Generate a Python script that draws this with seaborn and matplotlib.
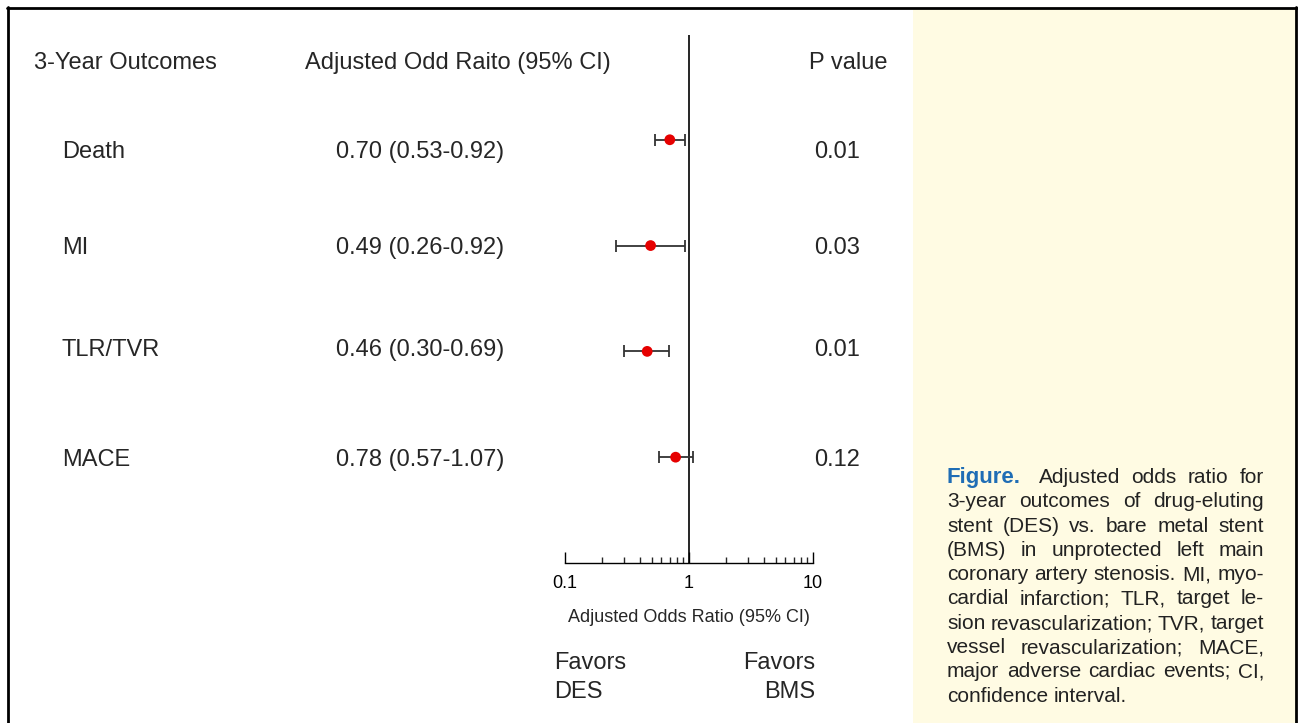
import math
import matplotlib
matplotlib.use("Agg")
import matplotlib.pyplot as plt
import seaborn as sns
import pandas as pd
from matplotlib.lines import Line2D
from matplotlib.patches import Rectangle
from matplotlib.ticker import LogLocator, NullFormatter
from matplotlib import font_manager

# data
outcomes = ["Death", "MI", "TLR/TVR", "MACE"]
odds_ratio = [0.70, 0.49, 0.46, 0.78]
ci_low = [0.53, 0.26, 0.30, 0.57]
ci_high = [0.92, 0.92, 0.69, 1.07]
p_values = ["0.01", "0.03", "0.01", "0.12"]
tick_vals = [0.1, 1, 10]
tick_labels = ["0.1", "1", "10"]

caption_lines = [
    "Figure.  Adjusted odds ratio for",
    "3-year outcomes of drug-eluting",
    "stent (DES) vs. bare metal stent",
    "(BMS) in unprotected left main",
    "coronary artery stenosis. MI, myo-",
    "cardial infarction; TLR, target le-",
    "sion revascularization; TVR, target",
    "vessel revascularization; MACE,",
    "major adverse cardiac events; CI,",
    "confidence interval.",
]

df = pd.DataFrame({"outcome": outcomes, "odds_ratio": odds_ratio,
                   "lo": ci_low, "hi": ci_high, "row": range(len(outcomes))})
df["or_text"] = [f"{o:.2f} ({l:.2f}-{h:.2f})" for o, l, h in zip(odds_ratio, ci_low, ci_high)]

sns.set_style("white")
plt.rcParams["font.family"] = ["Liberation Sans", "DejaVu Sans"]

names = {f.name for f in font_manager.fontManager.ttflist}
narrow = "Liberation Sans Narrow" if "Liberation Sans Narrow" in names else "Liberation Sans"

W, H = 1298, 723
fig = plt.figure(figsize=(W / 100, H / 100), dpi=100)
fig.patch.set_facecolor("white")


def fx(x):
    return x / W


def fy(y):
    return 1 - y / H


# yellow caption panel + frame
fig.add_artist(Rectangle((fx(913), 0), fx(1296) - fx(913), fy(8), transform=fig.transFigure,
                         facecolor="#FFFBE3", edgecolor="none", zorder=0))
for xs, ys in [([7, 1297], [7.5, 7.5]), ([7.5, 7.5], [7, 723]), ([1296, 1296], [7, 723])]:
    fig.add_artist(Line2D([fx(v) for v in xs], [fy(v) for v in ys], transform=fig.transFigure,
                          color="black", lw=2, zorder=5))

ax = fig.add_axes([fx(565), fy(563), fx(813) - fx(565), fy(35) - fy(563)])
ax.patch.set_alpha(0)
ax.axvline(1, color="black", lw=1.2, zorder=1)
ax.errorbar(df["odds_ratio"], df["row"],
            xerr=[df["odds_ratio"] - df["lo"], df["hi"] - df["odds_ratio"]],
            fmt="none", ecolor="#333333", elinewidth=1.3, capsize=4, capthick=1.3, zorder=2)
sns.scatterplot(data=df, x="odds_ratio", y="row", color="#E60000", s=60,
                edgecolor="none", zorder=4, ax=ax, legend=False)
ax.set_xscale("log")
ax.set_xlim(0.1, 10)
ax.set_ylim(4.0, -0.99)
ax.set_yticks([])
ax.set_xticks(tick_vals)
ax.set_xticklabels(tick_labels)
ax.xaxis.set_minor_locator(LogLocator(base=10, subs=range(2, 10)))
ax.xaxis.set_minor_formatter(NullFormatter())
ax.tick_params(axis="x", which="major", direction="in", length=8, width=1,
               labelsize=13, pad=9, bottom=True, colors="black")
ax.tick_params(axis="x", which="minor", direction="in", length=4, width=1, bottom=True)
for s in ["left", "top", "right"]:
    ax.spines[s].set_visible(False)
ax.spines["bottom"].set_color("black")
ax.spines["bottom"].set_linewidth(1)
ax.set_xlabel("")
ax.set_ylabel("")

fig.text(fx(689), fy(618), "Adjusted Odds Ratio (95% CI)", ha="center", va="center", fontsize=13)
fig.text(fx(554), fy(663), "Favors", ha="left", va="center", fontsize=17)
fig.text(fx(554), fy(692), "DES", ha="left", va="center", fontsize=17)
fig.text(fx(815), fy(663), "Favors", ha="right", va="center", fontsize=17)
fig.text(fx(815), fy(692), "BMS", ha="right", va="center", fontsize=17)

# table columns
fig.text(fx(34), fy(63), "3-Year Outcomes", va="center", fontsize=17)
fig.text(fx(305), fy(63), "Adjusted Odd Raito (95% CI)", va="center", fontsize=17)
fig.text(fx(809), fy(63), "P value", va="center", fontsize=17)
row_y = [152, 248, 350, 460]
for yy, (_, r), p in zip(row_y, df.iterrows(), p_values):
    fig.text(fx(62), fy(yy), r["outcome"], va="center", fontsize=17)
    fig.text(fx(336), fy(yy), r["or_text"], va="center", fontsize=17)
    fig.text(fx(814), fy(yy), p, va="center", fontsize=17)

# justified caption; each word nudged so agg's pixel rounding keeps one baseline
renderer = fig.canvas.get_renderer()
x0, x1 = 947, 1264
for i, line in enumerate(caption_lines):
    base = round(477 + i * 24.3 + 6)
    words = line.split()
    texts = []
    for j, w in enumerate(words):
        if i == 0 and j == 0:
            t = fig.text(0, fy(base), w, va="baseline", fontsize=16, color="#1F6DB5",
                         fontweight="bold", family=[narrow, "DejaVu Sans"])
        else:
            t = fig.text(0, fy(base), w, va="baseline", fontsize=15, color="#222222")
        _, _, d = renderer.get_text_width_height_descent(w, t.get_fontproperties(), ismath=False)
        t.set_y(fy(base + math.ceil(d) - d))
        texts.append(t)
    widths = [t.get_window_extent(renderer).width for t in texts]
    if i == 0:
        widths[0] += 7
    if i == len(caption_lines) - 1:
        gap = 5.5
    else:
        gap = (x1 - x0 - sum(widths)) / (len(words) - 1)
    x = x0
    for t, wd in zip(texts, widths):
        t.set_x(fx(x))
        x += wd + gap

fig.savefig("out.png", dpi=100)
